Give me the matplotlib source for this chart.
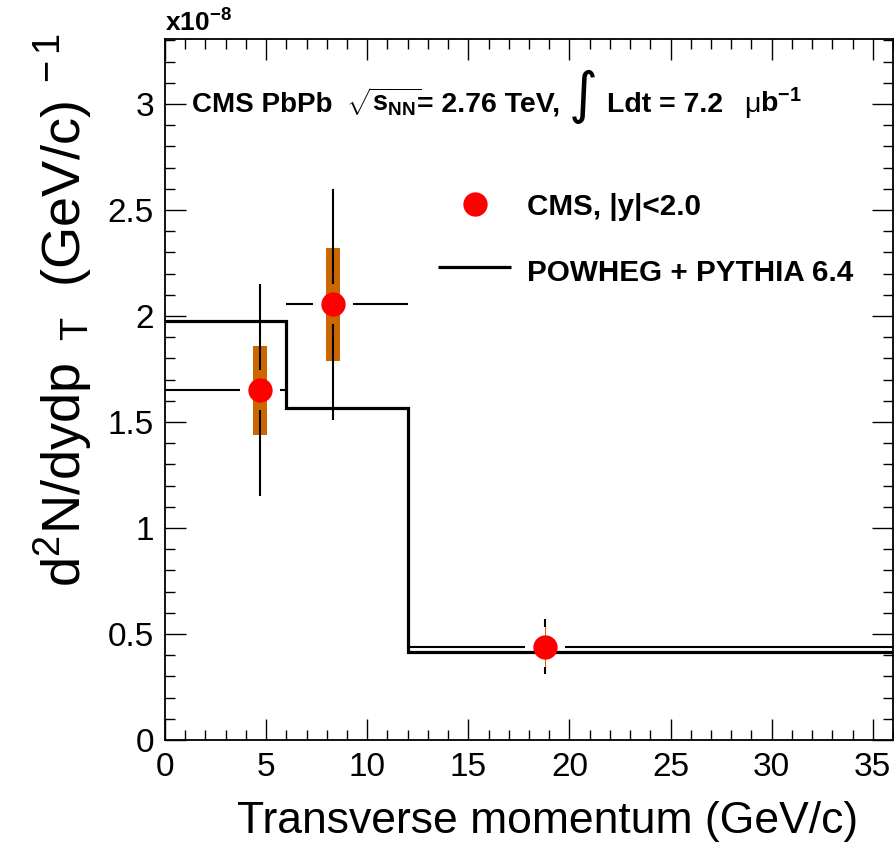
import matplotlib
matplotlib.use('Agg')
import matplotlib.pyplot as plt
from matplotlib.ticker import MultipleLocator, FormatStrFormatter

plt.rcParams['font.family'] = ['Liberation Sans', 'DejaVu Sans']
plt.rcParams['mathtext.fontset'] = 'custom'
plt.rcParams['mathtext.rm'] = 'Liberation Sans'
plt.rcParams['mathtext.it'] = 'Liberation Sans:italic'
plt.rcParams['mathtext.bf'] = 'Liberation Sans:bold'
plt.rcParams['mathtext.sf'] = 'Liberation Sans'

# measured points (units of 1e-8)
pt_center = [4.7, 8.3, 18.8]
pt_low = [0.0, 6.0, 12.0]
pt_high = [6.0, 12.0, 36.0]
yield_val = [1.65, 2.055, 0.44]
stat_err = [0.50, 0.545, 0.13]
syst_err = [0.21, 0.265, 0.095]

# POWHEG + PYTHIA prediction, histogram
model_edges = [0.0, 6.0, 12.0, 36.0]
model_val = [1.977, 1.567, 0.414]

x_ticks = [0, 5, 10, 15, 20, 25, 30, 35]
y_ticks = [0, 0.5, 1, 1.5, 2, 2.5, 3]

box_width = [0.72, 0.72, 0.05]
gap_px = 20
orange = '#cc6600'

fig = plt.figure(figsize=(8.94, 8.51), dpi=100)
ax = fig.add_axes([165/894, 111/851, 728/894, 701/851])
ax.set_xlim(0, 36)
ax.set_ylim(0, 3.307)

def ax_x(px):
	return (px - 165) / 728

def ax_y(py):
	return (740 - py) / 701

# systematic boxes
for x, y, s, w in zip(pt_center, yield_val, syst_err, box_width):
	ax.bar(x, 2*s, bottom=y-s, width=w, color=orange, zorder=2, linewidth=0)

# model histogram
ax.stairs(model_val, model_edges, baseline=None, color='k', linewidth=2.3, zorder=3)

# error bars, with a gap around the marker like ROOT
inv = ax.transData.inverted()
for x, y, lo, hi, e in zip(pt_center, yield_val, pt_low, pt_high, stat_err):
	cx, cy = ax.transData.transform((x, y))
	xl = inv.transform((cx - gap_px, cy))[0]
	xr = inv.transform((cx + gap_px, cy))[0]
	yb = inv.transform((cx, cy - gap_px))[1]
	yt = inv.transform((cx, cy + gap_px))[1]
	segs = [((lo, xl), (y, y)), ((xr, hi), (y, y)),
		((x, x), (y - e, yb)), ((x, x), (yt, y + e))]
	for sx, sy in segs:
		if sx[0] < sx[1] or sy[0] < sy[1]:
			ax.plot(sx, sy, color='k', linewidth=1.5, solid_capstyle='butt', zorder=4)

ax.plot(pt_center, yield_val, 'o', color='red', markersize=17.5, markeredgewidth=0, zorder=5)

# ticks, ROOT style
ax.set_xticks(x_ticks)
ax.set_yticks(y_ticks)
ax.xaxis.set_minor_locator(MultipleLocator(1))
ax.yaxis.set_minor_locator(MultipleLocator(0.1))
ax.yaxis.set_major_formatter(FormatStrFormatter('%g'))
ax.tick_params(which='both', direction='in', top=True, right=True, width=1.0, labelsize=24)
ax.tick_params(which='major', length=15)
ax.tick_params(which='minor', length=7.5)
ax.tick_params(axis='x', pad=9)
ax.tick_params(axis='y', pad=8)
for sp in ax.spines.values():
	sp.set_linewidth(1.3)

ax.set_xlabel('Transverse momentum (GeV/c)', fontsize=32, ha='right', va='baseline')
ax.xaxis.set_label_coords(1.0 - 35/728, ax_y(833))
ax.set_ylabel(r'd$^{2}$N/dydp$_{\ \ \mathrm{T}}$  (GeV/c)$^{\ -1}$', fontsize=39,
	ha='right', va='baseline', rotation_mode='anchor')
ax.yaxis.set_label_coords(ax_x(81), ax_y(33))

ax.text(0, ax_y(32), r'x10$^{\mathbf{-8}}$', transform=ax.transAxes,
	fontsize=19, fontweight='bold', ha='left', va='baseline')

# header, placed piece by piece like the TLatex original
hdr_y = ax_y(112)
ax.text(ax_x(192), hdr_y, 'CMS PbPb', transform=ax.transAxes, fontsize=20,
	fontweight='bold', ha='left', va='baseline')
ax.text(ax_x(346), hdr_y, r'$\sqrt{\mathbf{s}_{\mathbf{NN}}}$', transform=ax.transAxes,
	fontsize=19.5, ha='left', va='baseline')
ax.text(ax_x(417), hdr_y, '= 2.76 TeV,', transform=ax.transAxes, fontsize=20.5,
	fontweight='bold', ha='left', va='baseline')
ax.text(ax_x(583), ax_y(97), '\u222b', transform=ax.transAxes, fontsize=40,
	family='DejaVu Sans', ha='center', va='center')
ax.text(ax_x(607), hdr_y, 'Ldt = 7.2', transform=ax.transAxes, fontsize=20.5,
	fontweight='bold', ha='left', va='baseline')
ax.text(ax_x(744), hdr_y, '\u03bc', transform=ax.transAxes, fontsize=20.5,
	ha='left', va='baseline')
ax.text(ax_x(760), hdr_y, r'b$^{\mathbf{-1}}$', transform=ax.transAxes, fontsize=20.5,
	fontweight='bold', ha='left', va='baseline')

# legend drawn by hand
ax.plot([ax_x(475)], [ax_y(204)], 'o', color='red', markersize=17.5,
	markeredgewidth=0, transform=ax.transAxes, clip_on=False)
ax.plot([ax_x(438), ax_x(511)], [ax_y(267)]*2, color='k', linewidth=2.3,
	transform=ax.transAxes, solid_capstyle='butt')
ax.text(ax_x(527), ax_y(207), 'CMS, |y|<2.0', transform=ax.transAxes,
	fontsize=21.3, fontweight='bold', ha='left', va='center')
ax.text(ax_x(527), ax_y(273), 'POWHEG + PYTHIA 6.4', transform=ax.transAxes,
	fontsize=21.3, fontweight='bold', ha='left', va='center')

fig.savefig('out.png', dpi=100)
